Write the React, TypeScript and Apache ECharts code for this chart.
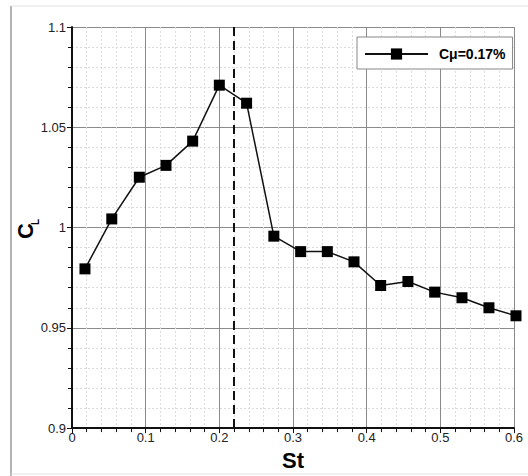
import React, { useEffect, useRef } from "react";
import * as echarts from "echarts";

const stValues = [0.0176, 0.054, 0.0914, 0.1276, 0.1638, 0.2, 0.237, 0.274, 0.3104, 0.3466, 0.3828, 0.419, 0.456, 0.4923, 0.5294, 0.566, 0.6027];
const clValues = [0.9794, 1.0043, 1.0251, 1.031, 1.0431, 1.071, 1.062, 0.9957, 0.988, 0.988, 0.9829, 0.9711, 0.9731, 0.9678, 0.965, 0.96, 0.956];
const seriesName = "Cμ=0.17%";
const dashedSt = 0.217;
const xTicks = { min: 0, max: 0.6, interval: 0.1 };
const yTicks = { min: 0.9, max: 1.1, interval: 0.05 };

const FONT = "'Liberation Sans', Arial, Helvetica, sans-serif";

export default function App() {
  const ref = useRef<HTMLDivElement>(null);
  useEffect(() => {
    document.body.style.margin = "0";
    const chart = echarts.init(ref.current!, undefined, { renderer: "svg" });
    const data = stValues.map((x, i) => [x, clValues[i]]);
    const axisCommon = {
      type: "value" as const,
      axisLine: { show: true, onZero: false, lineStyle: { color: "#111", width: 2 } },
      axisTick: { show: true, inside: false, length: 5, lineStyle: { color: "#111", width: 1 } },
      minorTick: { show: true, splitNumber: 5, length: 4, lineStyle: { color: "#111", width: 1 } },
      splitLine: { show: true, lineStyle: { color: "#8a8a8a", width: 1 } },
      minorSplitLine: { show: true, lineStyle: { color: "#dcdcdc", width: 1, type: [2, 2] } },
    };
    chart.setOption({
      animation: false,
      backgroundColor: "#fff",
      textStyle: { fontFamily: FONT },
      grid: { left: 72, right: 14, top: 27, bottom: 42, containLabel: false },
      legend: {
        left: 357,
        top: 37,
        padding: [10, 7, 8, 7],
        itemWidth: 63,
        itemHeight: 14,
        borderColor: "#888",
        borderWidth: 1,
        borderRadius: 0,
        backgroundColor: "#fff",
        textStyle: { fontFamily: FONT, fontWeight: "bold", fontSize: 14, color: "#000", padding: [0, 0, 0, 6] },
        data: [seriesName],
      },
      xAxis: {
        ...axisCommon,
        min: xTicks.min,
        max: xTicks.max,
        interval: xTicks.interval,
        axisLabel: {
          margin: 3,
          fontSize: 13,
          color: "#222",
          fontFamily: FONT,
          formatter: (v: number) => String(+v.toFixed(2)),
        },
        name: "St",
        nameLocation: "middle",
        nameGap: 26,
        nameTextStyle: { fontFamily: FONT, fontWeight: "bold", fontSize: 22, color: "#000", verticalAlign: "middle" },
      },
      yAxis: {
        ...axisCommon,
        min: yTicks.min,
        max: yTicks.max,
        interval: yTicks.interval,
        axisLabel: {
          margin: 6,
          fontSize: 13,
          color: "#222",
          fontFamily: FONT,
          formatter: (v: number) => String(+v.toFixed(2)),
        },
      },
      graphic: [
        { type: "line", shape: { x1: 11, y1: 6, x2: 11, y2: 476 }, style: { stroke: "#666", lineWidth: 1 }, silent: true },
        { type: "line", shape: { x1: 11, y1: 6, x2: 528, y2: 6 }, style: { stroke: "#e2e2e2", lineWidth: 1 }, silent: true },
        { type: "line", shape: { x1: 11, y1: 474, x2: 528, y2: 474 }, style: { stroke: "#e2e2e2", lineWidth: 1 }, silent: true },
        {
          type: "text",
          x: 25,
          y: 231,
          rotation: Math.PI / 2,
          style: { text: "C", font: `bold 22px ${FONT}`, fill: "#000", align: "center", verticalAlign: "middle" },
          silent: true,
        },
        {
          type: "text",
          x: 35,
          y: 222,
          rotation: Math.PI / 2,
          style: { text: "L", font: `bold 10px ${FONT}`, fill: "#000", align: "center", verticalAlign: "middle" },
          silent: true,
        },
      ],
      series: [
        {
          name: seriesName,
          type: "line",
          data,
          clip: false,
          symbol: "rect",
          symbolSize: 11,
          itemStyle: { color: "#000" },
          lineStyle: { color: "#111", width: 1.5 },
          z: 5,
          markLine: {
            silent: true,
            symbol: "none",
            label: { show: false },
            lineStyle: { color: "#111", width: 2, type: [9, 5] },
            data: [{ xAxis: dashedSt }],
          },
        },
      ],
    });
    return () => chart.dispose();
  }, []);
  return <div ref={ref} style={{ width: 528, height: 476 }} />;
}
